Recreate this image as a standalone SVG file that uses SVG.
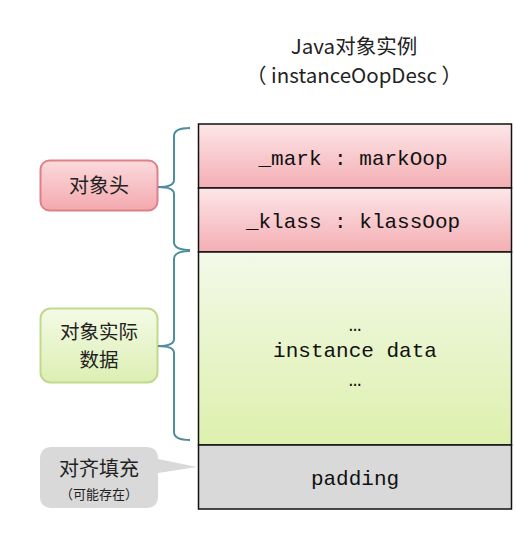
<svg xmlns="http://www.w3.org/2000/svg" width="516" height="546" viewBox="0 0 516 546">
<defs>
<linearGradient id="gPink" x1="0" y1="0" x2="0" y2="1"><stop offset="0" stop-color="#fde6e8"/><stop offset="1" stop-color="#f3aeb3"/></linearGradient>
<linearGradient id="gGreen" x1="0" y1="0" x2="0" y2="1"><stop offset="0" stop-color="#f3f9e8"/><stop offset="1" stop-color="#ddf0ad"/></linearGradient>
<linearGradient id="gPinkBox" x1="0" y1="0" x2="0" y2="1"><stop offset="0" stop-color="#fbdadd"/><stop offset="1" stop-color="#f3a9ae"/></linearGradient>
<linearGradient id="gGreenBox" x1="0" y1="0" x2="0" y2="1"><stop offset="0" stop-color="#f4fae6"/><stop offset="1" stop-color="#dcefb2"/></linearGradient>
</defs>
<style>
.cell{stroke:#111;stroke-width:1.5}
.mono{font-family:"Liberation Mono","DejaVu Sans Mono",monospace;font-size:21px;fill:#111;text-anchor:middle}
.cjk{font-family:"Noto Sans CJK SC","Noto Sans",sans-serif;fill:#222;text-anchor:middle}
.brace{fill:none;stroke:#4e8d9b;stroke-width:2}
</style>
<rect width="516" height="546" fill="#ffffff"/>
<g id="title">
<text class="cjk" x="354" y="54" font-size="20.5">Java对象实例</text>
<text class="cjk" x="354" y="83" font-size="20.5">（ instanceOopDesc ）</text>
</g>
<g id="row-mark">
<rect class="cell" x="198.5" y="124" width="313" height="64" fill="url(#gPink)"/>
<text class="mono" x="353" y="165">_mark : markOop</text>
</g>
<g id="row-klass">
<rect class="cell" x="198.5" y="188" width="313" height="64" fill="url(#gPink)"/>
<text class="mono" x="353" y="228">_klass : klassOop</text>
</g>
<g id="row-instance">
<rect class="cell" x="198.5" y="252" width="313" height="193" fill="url(#gGreen)"/>
<text class="mono" x="355" y="331" font-size="16">…</text>
<text class="mono" x="355" y="357">instance data</text>
<text class="mono" x="355" y="386" font-size="16">…</text>
</g>
<g id="row-padding">
<rect class="cell" x="198.5" y="445" width="313" height="64" fill="#d9d9d9"/>
<text class="mono" x="355" y="485">padding</text>
</g>
<g id="label-header">
<rect x="40.5" y="160.5" width="117" height="50" rx="9" fill="url(#gPinkBox)" stroke="#dd8088" stroke-width="2"/>
<text class="cjk" x="99" y="193" font-size="20">对象头</text>
</g>
<g id="label-data">
<rect x="40.5" y="308.5" width="117" height="74" rx="10" fill="url(#gGreenBox)" stroke="#c1d98c" stroke-width="2"/>
<text class="cjk" x="99" y="339" font-size="19.5">对象实际</text>
<text class="cjk" x="99" y="367" font-size="19.5">数据</text>
</g>
<g id="label-padding">
<path d="M52,447 H146 Q158,447 158,459 L197,467 L158,473 V496 Q158,508 146,508 H52 Q40,508 40,496 V459 Q40,447 52,447 Z" fill="#d9d9d9"/>
<text class="cjk" x="99" y="476" font-size="20">对齐填充</text>
<text class="cjk" x="99" y="499" font-size="13">（可能存在）</text>
</g>
<g id="connectors">
<path class="brace" d="M190,128 Q174,128 174,136 V180 Q174,187 158,187 Q174,187 174,194 V242 Q174,250 190,250"/>
<path class="brace" d="M190,251 Q174,251 174,259 V339 Q174,346 158,346 Q174,346 174,353 V432 Q174,440 190,440"/>
</g>
</svg>
